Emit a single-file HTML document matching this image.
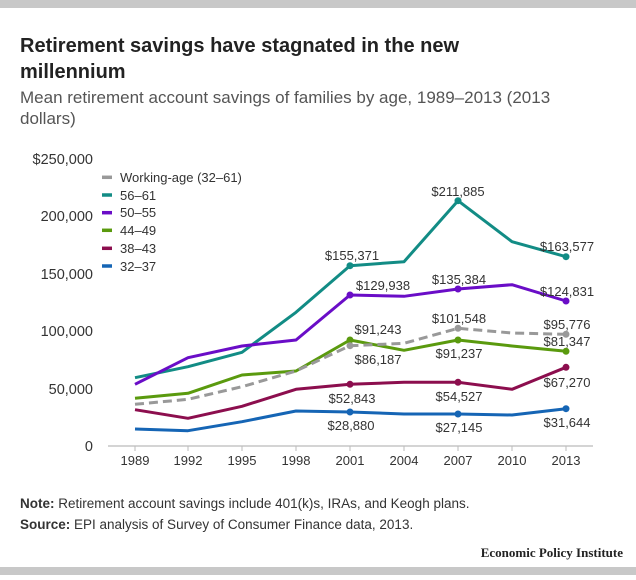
<!DOCTYPE html>
<html><head><meta charset="utf-8"><style>
body{margin:0;background:#fff;font-family:"Liberation Sans",sans-serif}
</style></head><body>
<svg width="636" height="575" xmlns="http://www.w3.org/2000/svg" font-family="Liberation Sans, sans-serif">
<rect x="0" y="0" width="636" height="8" fill="#c8c8c8"/>
<rect x="0" y="567" width="636" height="8" fill="#c8c8c8"/>
<text x="20" y="52" font-size="20" font-weight="bold" fill="#222">Retirement savings have stagnated in the new</text>
<text x="20" y="78" font-size="20" font-weight="bold" fill="#222">millennium</text>
<text x="20" y="103" font-size="17" fill="#555">Mean retirement account savings of families by age, 1989–2013 (2013</text>
<text x="20" y="124" font-size="17" fill="#555">dollars)</text>
<g font-size="14.5" fill="#333" text-anchor="end">
<text x="93" y="164">$250,000</text><text x="93" y="221">200,000</text><text x="93" y="279">150,000</text>
<text x="93" y="336">100,000</text><text x="93" y="394">50,000</text><text x="93" y="451">0</text>
</g>
<line x1="108" y1="446" x2="593" y2="446" stroke="#bbb" stroke-width="1.2"/>
<g stroke="#bbb"><line x1="135" y1="446" x2="135" y2="451"/><line x1="188" y1="446" x2="188" y2="451"/><line x1="242" y1="446" x2="242" y2="451"/><line x1="296" y1="446" x2="296" y2="451"/><line x1="350" y1="446" x2="350" y2="451"/><line x1="404" y1="446" x2="404" y2="451"/><line x1="458" y1="446" x2="458" y2="451"/><line x1="512" y1="446" x2="512" y2="451"/><line x1="566" y1="446" x2="566" y2="451"/></g>
<g font-size="13" fill="#333" text-anchor="middle">
<text x="135" y="465">1989</text><text x="188" y="465">1992</text><text x="242" y="465">1995</text><text x="296" y="465">1998</text><text x="350" y="465">2001</text><text x="404" y="465">2004</text><text x="458" y="465">2007</text><text x="512" y="465">2010</text><text x="566" y="465">2013</text>
</g>
<g fill="none" stroke-width="3" stroke-linejoin="round">
<polyline stroke="#128c85" points="135,377.7 188,366.7 242,352.3 296,312.3 350,265.7 404,261.7 458,200.7 512,241.7 566,256.7"/>
<polyline stroke="#6a0dc7" points="135,384.3 188,357.7 242,346 296,340 350,295 404,296.3 458,289 512,284.7 566,301"/>
<polyline stroke="#5a9a0e" points="135,398.3 188,393.3 242,375 296,371 350,340 404,350.3 458,340 512,346 566,351.3"/>
<polyline stroke="#999" stroke-dasharray="9,5" points="135,404.3 188,399.3 242,386.7 296,371 350,345.7 404,343.3 458,328.3 512,333 566,334.3"/>
<polyline stroke="#8c0e4e" points="135,409.7 188,418.3 242,406.3 296,389.3 350,384.3 404,382.3 458,382.3 512,389.3 566,367.3"/>
<polyline stroke="#1565b5" points="135,429 188,430.7 242,421.7 296,411 350,412 404,414 458,414 512,415 566,408.7"/>
</g>
<g>
<circle cx="350" cy="265.7" r="3.5" fill="#128c85"/><circle cx="458" cy="200.7" r="3.5" fill="#128c85"/><circle cx="566" cy="256.7" r="3.5" fill="#128c85"/>
<circle cx="350" cy="295" r="3.5" fill="#6a0dc7"/><circle cx="458" cy="289" r="3.5" fill="#6a0dc7"/><circle cx="566" cy="301" r="3.5" fill="#6a0dc7"/>
<circle cx="350" cy="340" r="3.5" fill="#5a9a0e"/><circle cx="458" cy="340" r="3.5" fill="#5a9a0e"/><circle cx="566" cy="351.3" r="3.5" fill="#5a9a0e"/>
<circle cx="350" cy="345.7" r="3.5" fill="#999"/><circle cx="458" cy="328.3" r="3.5" fill="#999"/><circle cx="566" cy="334.3" r="3.5" fill="#999"/>
<circle cx="350" cy="384.3" r="3.5" fill="#8c0e4e"/><circle cx="458" cy="382.3" r="3.5" fill="#8c0e4e"/><circle cx="566" cy="367.3" r="3.5" fill="#8c0e4e"/>
<circle cx="350" cy="412" r="3.5" fill="#1565b5"/><circle cx="458" cy="414" r="3.5" fill="#1565b5"/><circle cx="566" cy="408.7" r="3.5" fill="#1565b5"/>
</g>
<g font-size="13" fill="#333" text-anchor="middle">
<text x="458" y="196">$211,885</text><text x="352" y="260">$155,371</text><text x="567" y="251">$163,577</text>
<text x="383" y="290">$129,938</text><text x="459" y="284">$135,384</text><text x="567" y="296">$124,831</text>
<text x="459" y="323">$101,548</text><text x="567" y="329">$95,776</text><text x="378" y="334">$91,243</text>
<text x="567" y="346">$81,347</text><text x="378" y="364">$86,187</text><text x="459" y="358">$91,237</text>
<text x="567" y="387">$67,270</text><text x="352" y="403">$52,843</text><text x="459" y="401">$54,527</text>
<text x="351" y="430">$28,880</text><text x="459" y="432">$27,145</text><text x="567" y="427">$31,644</text>
</g>
<g stroke-width="3.5">
<line x1="102" y1="177.3" x2="112" y2="177.3" stroke="#999"/>
<line x1="102" y1="195" x2="112" y2="195" stroke="#128c85"/>
<line x1="102" y1="212.7" x2="112" y2="212.7" stroke="#6a0dc7"/>
<line x1="102" y1="230.3" x2="112" y2="230.3" stroke="#5a9a0e"/>
<line x1="102" y1="248.3" x2="112" y2="248.3" stroke="#8c0e4e"/>
<line x1="102" y1="266" x2="112" y2="266" stroke="#1565b5"/>
</g>
<g font-size="13" fill="#333">
<text x="120" y="182">Working-age (32–61)</text><text x="120" y="200">56–61</text><text x="120" y="217">50–55</text>
<text x="120" y="235">44–49</text><text x="120" y="253">38–43</text><text x="120" y="271">32–37</text>
</g>
<text x="20" y="508" font-size="13.5" fill="#333"><tspan font-weight="bold">Note:</tspan> Retirement account savings include 401(k)s, IRAs, and Keogh plans.</text>
<text x="20" y="529" font-size="13.5" fill="#333"><tspan font-weight="bold">Source:</tspan> EPI analysis of  Survey of Consumer Finance data, 2013.</text>
<text x="623" y="557" font-size="13" font-weight="bold" fill="#222" text-anchor="end" font-family="Liberation Serif, serif">Economic Policy Institute</text>
</svg>
</body></html>
